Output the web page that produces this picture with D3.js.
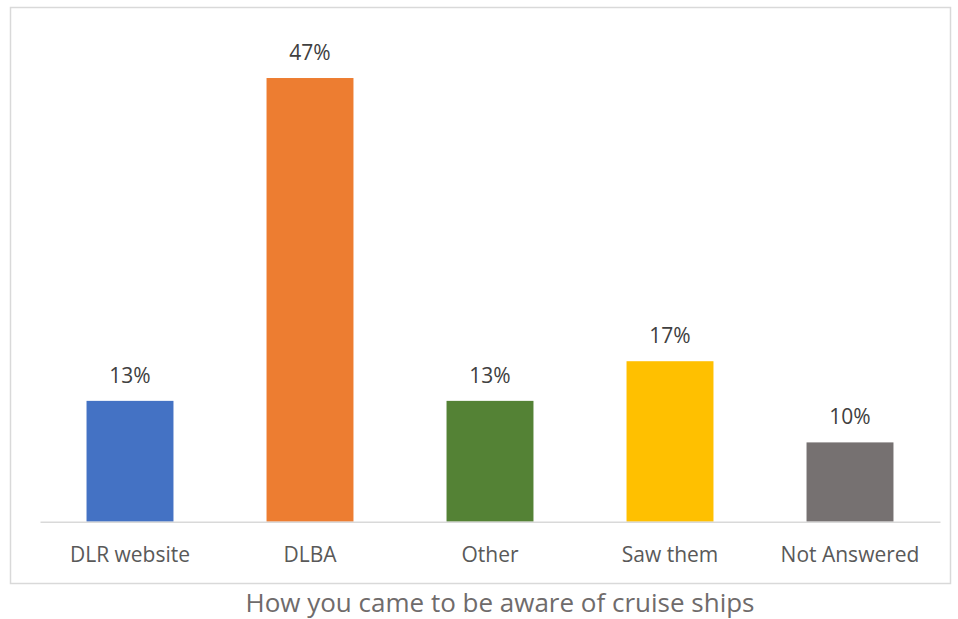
<!DOCTYPE html>
<html>
<head>
<meta charset="utf-8">
<script src="https://cdn.jsdelivr.net/npm/d3@7"></script>
<style>
  body { margin: 0; background: #fff; }
  text { font-family: "Open Sans", sans-serif; }
</style>
</head>
<body>
<script>
var categories = ["DLR website", "DLBA", "Other", "Saw them", "Not Answered"];
var values = [12.8, 47, 12.8, 17, 8.4];
var valueLabels = ["13%", "47%", "13%", "17%", "10%"];
var colors = ["#4472c4", "#ed7d31", "#548235", "#ffc000", "#767171"];
var title = "How you came to be aware of cruise ships";

var W = 958, H = 619;

var svg = d3.select("body").append("svg")
    .attr("width", W)
    .attr("height", H);

// chart frame
svg.append("rect")
    .attr("x", 10.5).attr("y", 7.5)
    .attr("width", 940).attr("height", 576)
    .attr("fill", "none")
    .attr("stroke", "#d9d9d9")
    .attr("stroke-width", 1.5);

var x = d3.scaleBand()
    .domain(categories)
    .range([40, 940])
    .paddingInner(0.517)
    .paddingOuter(0.2585);

var y = d3.scaleLinear()
    .domain([0, 50])
    .range([521.7, 49.7]);

var g = svg.append("g");

g.selectAll("rect.bar")
    .data(values)
    .enter().append("rect")
    .attr("class", "bar")
    .attr("x", function (d, i) { return x(categories[i]); })
    .attr("y", function (d) { return y(d); })
    .attr("width", x.bandwidth())
    .attr("height", function (d) { return y(0) - y(d); })
    .attr("fill", function (d, i) { return colors[i]; });

// axis line
var xAxis = svg.append("g")
    .attr("transform", "translate(0," + y(0) + ")")
    .call(d3.axisBottom(x).tickSize(0).tickPadding(25));
xAxis.select(".domain").attr("stroke", "#d9d9d9").attr("stroke-width", 1.5);
xAxis.selectAll("text")
    .attr("font-size", 21)
    .attr("font-family", "'Open Sans', sans-serif")
    .attr("fill", "#595959");

g.selectAll("text.lbl")
    .data(values)
    .enter().append("text")
    .attr("class", "lbl")
    .attr("x", function (d, i) { return x(categories[i]) + x.bandwidth() / 2; })
    .attr("y", function (d) { return y(d) - 18; })
    .attr("text-anchor", "middle")
    .attr("font-size", 21)
    .attr("fill", "#404040")
    .text(function (d, i) { return valueLabels[i]; });

svg.append("text")
    .attr("x", 500)
    .attr("y", 612)
    .attr("text-anchor", "middle")
    .attr("font-size", 26)
    .attr("fill", "#6f6b6b")
    .text(title);
</script>
</body>
</html>
